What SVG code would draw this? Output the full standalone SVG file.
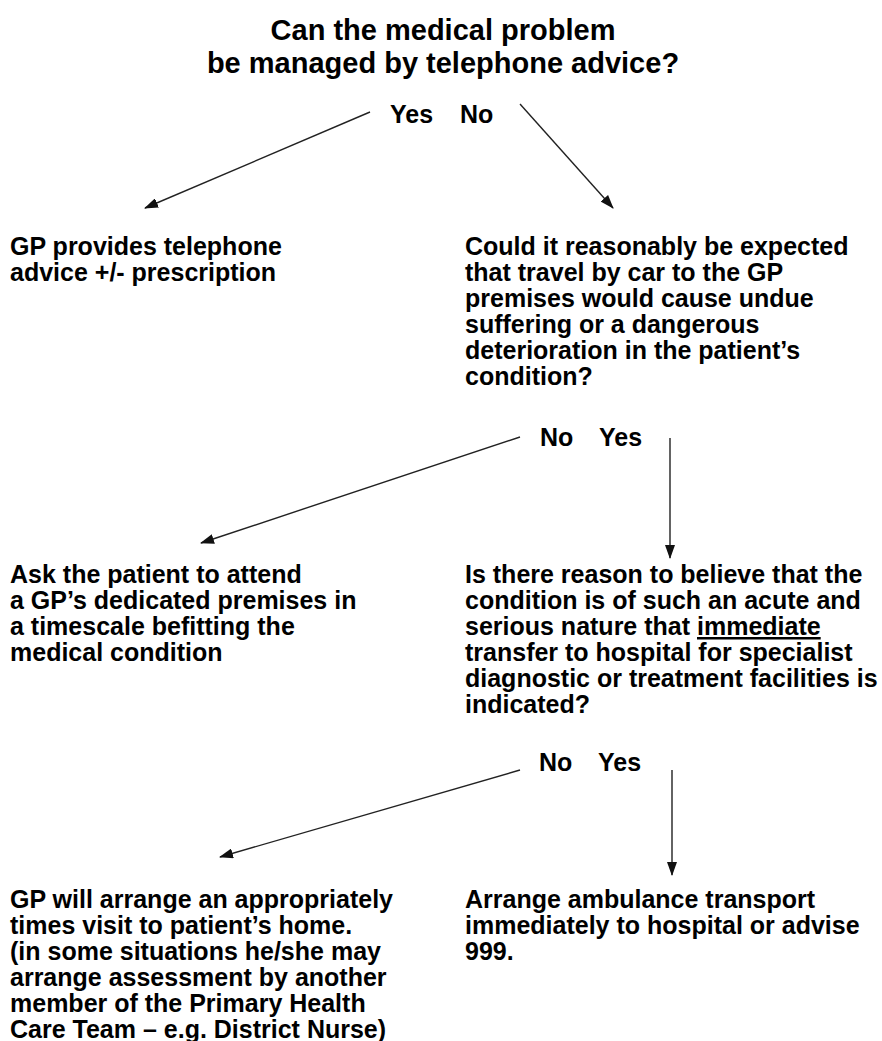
<svg xmlns="http://www.w3.org/2000/svg" width="882" height="1041" viewBox="0 0 882 1041">
<style>
text{font-family:"Liberation Sans",Arial,Helvetica,sans-serif;font-weight:bold;fill:#000}
.t{font-size:29px}
.b{font-size:25px}
.l{font-size:25px}
.c{stroke:#222;stroke-width:1.4;fill:none;marker-end:url(#ah)}
</style>
<defs>
<marker id="ah" viewBox="0 0 14 10" refX="13" refY="5" markerWidth="14" markerHeight="10" markerUnits="userSpaceOnUse" orient="auto">
<path d="M0,0 L14,5 L0,10 Z" fill="#111"/>
</marker>
</defs>
<g id="q1">
<text class="t" x="443" y="40" text-anchor="middle">Can the medical problem</text>
<text class="t" x="443" y="73" text-anchor="middle">be managed by telephone advice?</text>
</g>
<g id="lbl1">
<text class="l" x="390" y="123">Yes</text>
<text class="l" x="460" y="123">No</text>
</g>
<g id="a1">
<text class="b" x="10" y="255">GP provides telephone</text>
<text class="b" x="10" y="281">advice +/- prescription</text>
</g>
<g id="q2">
<text class="b" x="465" y="255">Could it reasonably be expected</text>
<text class="b" x="465" y="281">that travel by car to the GP</text>
<text class="b" x="465" y="307">premises would cause undue</text>
<text class="b" x="465" y="333">suffering or a dangerous</text>
<text class="b" x="465" y="359">deterioration in the patient’s</text>
<text class="b" x="465" y="385">condition?</text>
</g>
<g id="lbl2">
<text class="l" x="540" y="446">No</text>
<text class="l" x="599" y="446">Yes</text>
</g>
<g id="a2">
<text class="b" x="10" y="583">Ask the patient to attend</text>
<text class="b" x="10" y="609">a GP’s dedicated premises in</text>
<text class="b" x="10" y="635">a timescale befitting the</text>
<text class="b" x="10" y="661">medical condition</text>
</g>
<g id="q3">
<text class="b" x="465" y="583">Is there reason to believe that the</text>
<text class="b" x="465" y="609">condition is of such an acute and</text>
<text class="b" x="465" y="635">serious nature that <tspan text-decoration="underline">immediate</tspan></text>
<text class="b" x="465" y="661">transfer to hospital for specialist</text>
<text class="b" x="465" y="687">diagnostic or treatment facilities is</text>
<text class="b" x="465" y="713">indicated?</text>
</g>
<g id="lbl3">
<text class="l" x="539" y="771">No</text>
<text class="l" x="598" y="771">Yes</text>
</g>
<g id="a3">
<text class="b" x="10" y="908">GP will arrange an appropriately</text>
<text class="b" x="10" y="934">times visit to patient’s home.</text>
<text class="b" x="10" y="960">(in some situations he/she may</text>
<text class="b" x="10" y="986">arrange assessment by another</text>
<text class="b" x="10" y="1012">member of the Primary Health</text>
<text class="b" x="10" y="1038">Care Team – e.g. District Nurse)</text>
</g>
<g id="a4">
<text class="b" x="465" y="908">Arrange ambulance transport</text>
<text class="b" x="465" y="934">immediately to hospital or advise</text>
<text class="b" x="465" y="960">999.</text>
</g>
<g id="connectors">
<line class="c" x1="370" y1="112" x2="145" y2="208"/>
<line class="c" x1="520" y1="104" x2="613" y2="208"/>
<line class="c" x1="520" y1="437" x2="201" y2="543"/>
<line class="c" x1="670" y1="438" x2="670" y2="558"/>
<line class="c" x1="520" y1="770" x2="220" y2="857"/>
<line class="c" x1="672" y1="770" x2="672" y2="875"/>
</g>
</svg>
